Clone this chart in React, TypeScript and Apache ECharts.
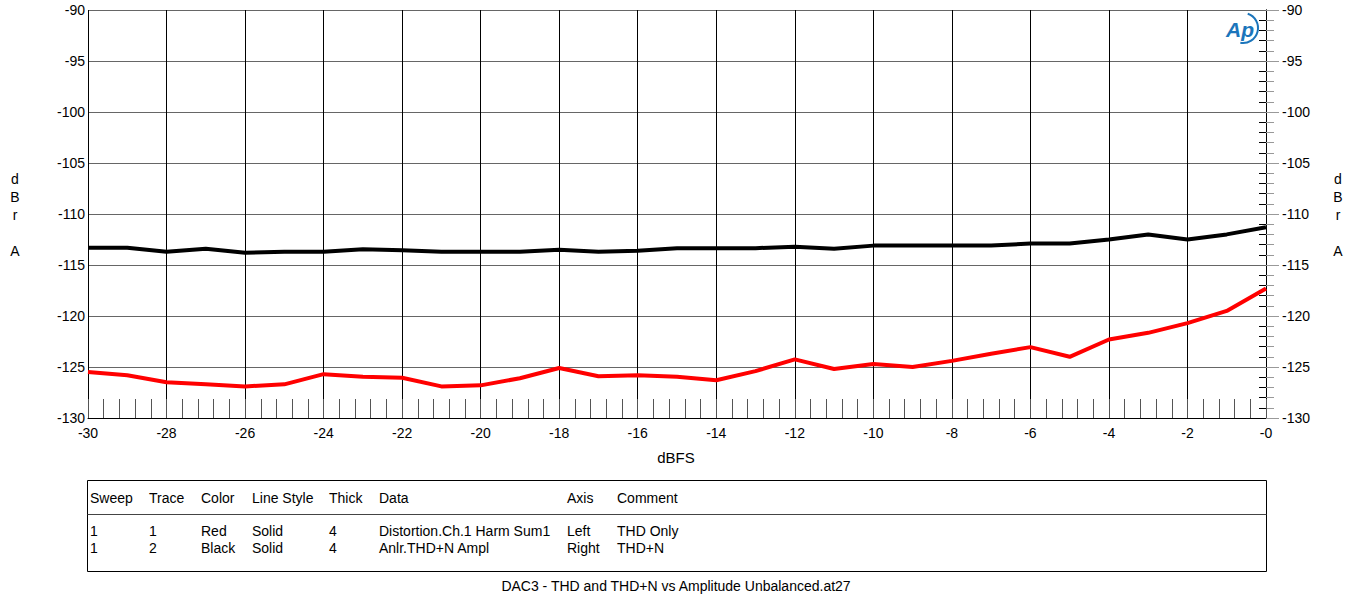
import React, { useEffect, useRef } from "react";
import * as echarts from "echarts";

const xValues = [-30, -29, -28, -27, -26, -25, -24, -23, -22, -21, -20, -19, -18, -17, -16, -15, -14, -13, -12, -11, -10, -9, -8, -7, -6, -5, -4, -3, -2, -1, 0];
const thdOnly = [-125.5, -125.8, -126.5, -126.7, -126.9, -126.7, -125.7, -125.95, -126.05, -126.9, -126.8, -126.1, -125.1, -125.9, -125.8, -125.95, -126.3, -125.4, -124.25, -125.2, -124.7, -125.0, -124.4, -123.7, -123.05, -124.0, -122.3, -121.65, -120.7, -119.5, -117.3];
const thdN = [-113.3, -113.3, -113.7, -113.4, -113.8, -113.7, -113.7, -113.45, -113.55, -113.7, -113.7, -113.7, -113.5, -113.7, -113.6, -113.35, -113.35, -113.35, -113.2, -113.4, -113.1, -113.1, -113.1, -113.1, -112.9, -112.9, -112.5, -112.0, -112.5, -112.0, -111.3];

const legendHeaders = ["Sweep", "Trace", "Color", "Line Style", "Thick", "Data", "Axis", "Comment"];
const legendRows = [
  ["1", "1", "Red", "Solid", "4", "Distortion.Ch.1 Harm Sum1", "Left", "THD Only"],
  ["1", "2", "Black", "Solid", "4", "Anlr.THD+N Ampl", "Right", "THD+N"],
];
const legendColX = [90, 149, 201, 252, 329, 379, 567, 617];
const axisNameLetters = ["d", "B", "r", "", "A"];
const xTitle = "dBFS";
const footer = "DAC3 - THD and THD+N vs Amplitude Unbalanced.at27";

const FONT = "Liberation Sans, Arial, sans-serif";

export default function App() {
  const ref = useRef<HTMLDivElement>(null);
  useEffect(() => {
    if (!ref.current) return;
    const chart = echarts.init(ref.current, undefined, { renderer: "svg" });
    const graphics: any[] = [];
    // vertical axis names
    axisNameLetters.forEach((l, i) => {
      if (!l) return;
      const y = i === 4 ? 251 : 179 + i * 18;
      graphics.push({ type: "text", x: 15, y, style: { text: l, font: `14px ${FONT}`, fill: "#000", align: "center", verticalAlign: "middle" } });
      graphics.push({ type: "text", x: 1338, y, style: { text: l, font: `14px ${FONT}`, fill: "#000", align: "center", verticalAlign: "middle" } });
    });
    // legend table
    graphics.push({ type: "rect", shape: { x: 87.5, y: 480.5, width: 1179, height: 91 }, style: { fill: "none", stroke: "#000", lineWidth: 1 } });
    graphics.push({ type: "line", shape: { x1: 87.5, y1: 514.5, x2: 1266.5, y2: 514.5 }, style: { stroke: "#444", lineWidth: 1 } });
    legendHeaders.forEach((h, i) => {
      graphics.push({ type: "text", x: legendColX[i], y: 497.5, style: { text: h, font: `14px ${FONT}`, fill: "#000", align: "left", verticalAlign: "middle" } });
    });
    legendRows.forEach((row, r) => {
      row.forEach((c, i) => {
        graphics.push({ type: "text", x: legendColX[i], y: 531 + r * 17, style: { text: c, font: `14px ${FONT}`, fill: "#000", align: "left", verticalAlign: "middle" } });
      });
    });
    graphics.push({ type: "text", x: 676, y: 457, style: { text: xTitle, font: `15px ${FONT}`, fill: "#000", align: "center", verticalAlign: "middle" } });
    graphics.push({ type: "text", x: 676, y: 586, style: { text: footer, font: `14px ${FONT}`, fill: "#000", align: "center", verticalAlign: "middle" } });
    // logo
    graphics.push({ type: "text", x: 1240, y: 29, style: { text: "Ap", font: `italic bold 21px ${FONT}`, fill: "#1b75bb", align: "center", verticalAlign: "middle" } });
    graphics.push({ type: "arc", shape: { cx: 1243, cy: 28, r: 15, startAngle: -1.25, endAngle: 1.75 }, style: { stroke: "#1b75bb", lineWidth: 2, fill: "none" } });

    const yCommon = {
      type: "value",
      min: -130,
      max: -90,
      interval: 5,
      axisLine: { show: true, lineStyle: { color: "#000", width: 1 } },
      axisLabel: { color: "#000", fontSize: 14, fontFamily: FONT },
    };

    chart.setOption({
      animation: false,
      backgroundColor: "#fff",
      grid: { left: 88, right: 89, top: 10, bottom: 176, containLabel: false },
      xAxis: {
        type: "value",
        min: -30,
        max: 0,
        interval: 2,
        axisLine: { show: true, onZero: false, lineStyle: { color: "#000" } },
        axisTick: { show: true, inside: true, length: 19, lineStyle: { color: "#555" } },
        minorTick: { show: true, splitNumber: 5, length: 19, lineStyle: { color: "#555" } },
        axisLabel: { color: "#000", fontSize: 14, fontFamily: FONT, margin: 8, formatter: (v: number) => (v === 0 ? "-0" : String(v)) },
        splitLine: { show: true, lineStyle: { color: "#000", width: 1 } },
      },
      yAxis: [
        {
          ...yCommon,
          position: "left",
          axisTick: { show: false },
          minorTick: { show: true, splitNumber: 5, length: 7, lineStyle: { color: "#000" } },
          axisLabel: { ...yCommon.axisLabel, margin: 3 },
          splitLine: { show: true, lineStyle: { color: "#666", width: 1.2 } },
        },
        {
          ...yCommon,
          position: "right",
          axisTick: { show: true, inside: false, length: 13, lineStyle: { color: "#999" } },
          minorTick: { show: true, splitNumber: 5, length: 8, lineStyle: { color: "#999" } },
          axisLabel: { ...yCommon.axisLabel, margin: 16 },
          splitLine: { show: false },
        },
      ],
      series: [
        {
          name: "THD Only",
          type: "line",
          yAxisIndex: 0,
          data: xValues.map((x, i) => [x, thdOnly[i]]),
          showSymbol: false,
          symbol: "none",
          lineStyle: { color: "#ff0000", width: 4 },
          z: 3,
        },
        {
          name: "THD+N",
          type: "line",
          yAxisIndex: 1,
          data: xValues.map((x, i) => [x, thdN[i]]),
          showSymbol: false,
          symbol: "none",
          lineStyle: { color: "#000000", width: 4 },
          z: 3,
        },
      ],
      graphic: graphics,
    });
    return () => chart.dispose();
  }, []);
  return <div ref={ref} style={{ position: "fixed", left: 0, top: 0, width: 1355, height: 594, background: "#fff" }} />;
}
